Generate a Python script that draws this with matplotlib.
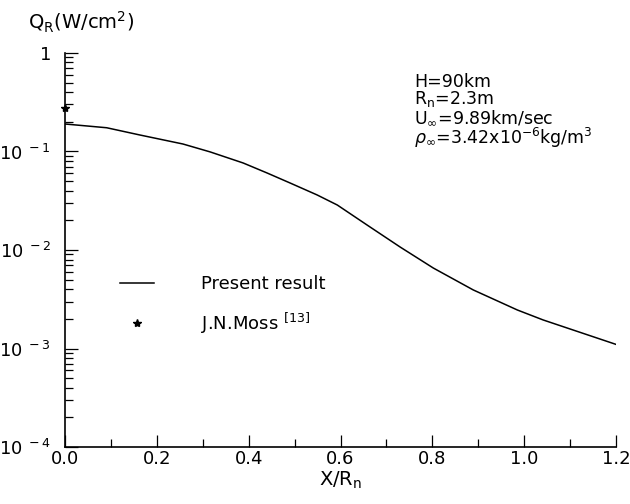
import numpy as np
import matplotlib
matplotlib.use("Agg")
import matplotlib.pyplot as plt
from matplotlib.ticker import LogLocator, MultipleLocator, FixedLocator

# present result
x_present = [0.0, 0.091, 0.163, 0.257, 0.316, 0.388, 0.440, 0.490, 0.549,
             0.593, 0.658, 0.730, 0.802, 0.889, 0.985, 1.041, 1.2]
q_present = [0.19, 0.174, 0.147, 0.119, 0.099, 0.0764, 0.0605, 0.0479, 0.0362,
             0.0286, 0.0179, 0.0107, 0.00656, 0.00393, 0.00246, 0.00195, 0.0011]

# J.N.Moss point
x_moss = [0.0]
q_moss = [0.277]

ytick_vals = [1e-4, 1e-3, 1e-2, 1e-1, 1]
ytick_labels = [r'$10^{\ -4}$', r'$10^{\ -3}$', r'$10^{\ -2}$', r'$10^{\ -1}$', '1']

plt.rcParams['font.family'] = ['DejaVu Sans']
plt.rcParams['mathtext.fontset'] = 'dejavusans'

fig = plt.figure(figsize=(6.3, 5.04), dpi=100)
ax = fig.add_axes([0.103, 0.113, 0.875, 0.782])

ax.plot(x_present, q_present, color='black', lw=1.1, label='Present result')
ax.plot(x_moss, q_moss, ls='none', marker='*', ms=6, color='black',
        label=r'J.N.Moss $^{[13]}$', clip_on=False, zorder=5)

ax.set_yscale('log')
ax.set_ylim(1e-4, 1)
ax.set_xlim(0, 1.2)

ax.yaxis.set_major_locator(FixedLocator(ytick_vals))
ax.set_yticklabels(ytick_labels)
ax.yaxis.set_minor_locator(LogLocator(base=10, subs=np.arange(2, 10)))
ax.yaxis.set_minor_formatter(plt.NullFormatter())

ax.xaxis.set_major_locator(MultipleLocator(0.2))
ax.xaxis.set_minor_locator(MultipleLocator(0.1))
ax.xaxis.set_major_formatter(plt.FormatStrFormatter('%.1f'))

ax.tick_params(which='both', direction='in', width=0.9, labelsize=13)
ax.tick_params(which='major', length=9)
ax.tick_params(which='minor', length=6)
ax.tick_params(axis='y', pad=10)
ax.tick_params(axis='x', pad=2)

for s in ['top', 'right']:
    ax.spines[s].set_visible(False)
for s in ['left', 'bottom']:
    ax.spines[s].set_linewidth(1.2)

ax.set_xlabel(r'X/R$_{\rm n}$', fontsize=14, labelpad=1)
fig.text(0.045, 0.955, r'Q$_{\rm R}$(W/cm$^2$)', fontsize=14, ha='left', va='center')

params = ('H=90km\n'
          r'R$_{\rm n}$=2.3m' '\n'
          r'U$_{\infty}$=9.89km/sec' '\n'
          r'$\rho_{\infty}$=3.42x10$^{-6}$kg/m$^3$')
ax.text(0.633, 0.95, params, transform=ax.transAxes, fontsize=12.5,
        ha='left', va='top', linespacing=0.92)

ax.legend(loc='upper left', bbox_to_anchor=(0.07, 0.477), frameon=False,
          fontsize=13, handlelength=1.9, handletextpad=2.6, labelspacing=0.95)

fig.savefig('out.png', dpi=100)
